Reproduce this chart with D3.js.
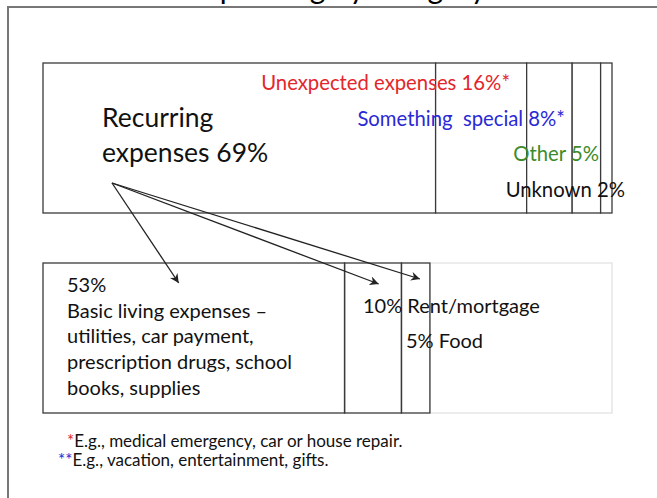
<!DOCTYPE html>
<html>
<head>
<meta charset="utf-8">
<script src="https://cdn.jsdelivr.net/npm/d3@7"></script>
<style>
  body { margin: 0; background: #fff; }
  text { font-family: Lato, "Open Sans", sans-serif; }
</style>
</head>
<body>
<div id="chart"></div>
<script>
// top level split of spending (percent)
var topCategories = ["Recurring expenses", "Unexpected expenses", "Something special", "Other", "Unknown"];
var topShares = [69, 16, 8, 5, 2];
var topLabels = ["Recurring expenses 69%", "Unexpected expenses 16%*", "Something  special 8%*", "Other 5%", "Unknown 2%"];

// breakdown of the recurring part
var recurringCategories = ["Basic living expenses", "Rent/mortgage", "Food"];
var recurringShares = [53, 10, 5];

var footnotes = [
  { mark: "*", text: "E.g., medical emergency, car or house repair." },
  { mark: "**", text: "E.g., vacation, entertainment, gifts." }
];

var width = 657, height = 498;

var svg = d3.select("#chart")
  .append("svg")
    .attr("width", width)
    .attr("height", height);

// arrow head
svg.append("defs").append("marker")
    .attr("id", "arrow")
    .attr("viewBox", "0 0 10 10")
    .attr("refX", 10)
    .attr("refY", 5)
    .attr("markerWidth", 12)
    .attr("markerHeight", 9)
    .attr("markerUnits", "userSpaceOnUse")
    .attr("orient", "auto")
  .append("path")
    .attr("d", "M0,0 L10,5 L0,10 L3,5 z")
    .attr("fill", "#222");

// slide frame (only top and left edges are in view)
svg.append("path")
  .attr("d", "M8," + height + " L8,7 L" + width + ",7")
  .attr("fill", "none")
  .attr("stroke", "#777")
  .attr("stroke-width", 2);

// title, mostly above the visible area
svg.append("text")
  .attr("x", 345)
  .attr("y", -1.5)
  .attr("text-anchor", "middle")
  .style("font-size", "30px")
  .text("Spending by category");

var x = d3.scaleLinear()
  .domain([0, 100])
  .range([43, 612]);

// ---- top bar
var topBar = { y: 63, h: 150 };
var topStarts = d3.cumsum([0].concat(topShares)).slice(0, topShares.length);

svg.append("g")
  .selectAll("rect")
  .data(topShares)
  .enter()
  .append("rect")
    .attr("x", function(d, i) { return x(topStarts[i]); })
    .attr("y", topBar.y)
    .attr("width", function(d, i) { return x(topStarts[i] + d) - x(topStarts[i]); })
    .attr("height", topBar.h)
    .attr("fill", "#fff")
    .attr("stroke", "#3a3a3a")
    .attr("stroke-width", 1.3);

// recurring label
var rec = svg.append("text")
  .attr("x", 102)
  .attr("y", 127)
  .style("font-size", "26.5px")
  .attr("fill", "#111");
rec.append("tspan").attr("x", 102).text("Recurring");
rec.append("tspan").attr("x", 102).attr("dy", 35).text("expenses " + topShares[0] + "%");

var smallLabels = [
  { i: 1, xEnd: 510, y: 90, color: "#e3262b" },
  { i: 2, xEnd: 565, y: 126, color: "#2929d6" },
  { i: 3, xEnd: 599, y: 161, color: "#3d8b2c" },
  { i: 4, xEnd: 625, y: 197, color: "#111" }
];
svg.append("g")
  .selectAll("text")
  .data(smallLabels)
  .enter()
  .append("text")
    .attr("x", function(d) { return d.xEnd; })
    .attr("y", function(d) { return d.y; })
    .attr("text-anchor", "end")
    .attr("fill", function(d) { return d.color; })
    .style("font-size", "20.3px")
    .style("white-space", "pre")
    .text(function(d) { return topLabels[d.i]; });

// ---- bottom bar (recurring breakdown)
var botBar = { y: 263, h: 150 };
var recStarts = d3.cumsum([0].concat(recurringShares)).slice(0, recurringShares.length);
var recTotal = d3.sum(recurringShares);

// faint remainder of the row
svg.append("rect")
  .attr("x", x(recTotal))
  .attr("y", botBar.y)
  .attr("width", x(100) - x(recTotal))
  .attr("height", botBar.h)
  .attr("fill", "#fff")
  .attr("stroke", "#e6e6e6")
  .attr("stroke-width", 1.5);

svg.append("g")
  .selectAll("rect")
  .data(recurringShares)
  .enter()
  .append("rect")
    .attr("x", function(d, i) { return x(recStarts[i]); })
    .attr("y", botBar.y)
    .attr("width", function(d, i) { return x(recStarts[i] + d) - x(recStarts[i]); })
    .attr("height", botBar.h)
    .attr("fill", "none")
    .attr("stroke", "#3a3a3a")
    .attr("stroke-width", 1.3);

var basic = svg.append("text")
  .attr("x", 67)
  .attr("y", 292)
  .attr("fill", "#111")
  .style("font-size", "20px");
var basicLines = [recurringShares[0] + "%", recurringCategories[0] + " \u2013", "utilities, car payment,", "prescription drugs, school", "books, supplies"];
basic.selectAll("tspan")
  .data(basicLines)
  .enter()
  .append("tspan")
    .attr("x", 67)
    .attr("dy", function(d, i) { return i === 0 ? 0 : 25.7; })
    .text(function(d) { return d; });

svg.append("text")
  .attr("x", 363)
  .attr("y", 313)
  .attr("fill", "#111")
  .style("font-size", "20px")
  .text(recurringShares[1] + "% " + recurringCategories[1]);

svg.append("text")
  .attr("x", 406)
  .attr("y", 348)
  .attr("fill", "#111")
  .style("font-size", "20px")
  .text(recurringShares[2] + "% " + recurringCategories[2]);

// ---- arrows from the recurring block to its parts
var arrowFrom = [112, 183];
var arrowTipFrac = [0.45, 0.6, 0.65];
var arrowTipY = [283, 284, 279];
svg.append("g")
  .selectAll("line")
  .data(recurringShares)
  .enter()
  .append("line")
    .attr("x1", arrowFrom[0])
    .attr("y1", arrowFrom[1])
    .attr("x2", function(d, i) { return x(recStarts[i] + d * arrowTipFrac[i]); })
    .attr("y2", function(d, i) { return arrowTipY[i]; })
    .attr("stroke", "#222")
    .attr("stroke-width", 1.3)
    .attr("marker-end", "url(#arrow)");

// ---- footnotes
var fn = svg.append("g").style("font-size", "17px");
var fnStarts = [67, 58];
var fnColors = ["#e3262b", "#2929d6"];
footnotes.forEach(function(f, i) {
  var t = fn.append("text")
    .attr("x", fnStarts[i])
    .attr("y", 447 + i * 19);
  t.append("tspan").attr("fill", fnColors[i]).text(f.mark);
  t.append("tspan").attr("fill", "#111").text(f.text);
});
</script>
</body>
</html>
